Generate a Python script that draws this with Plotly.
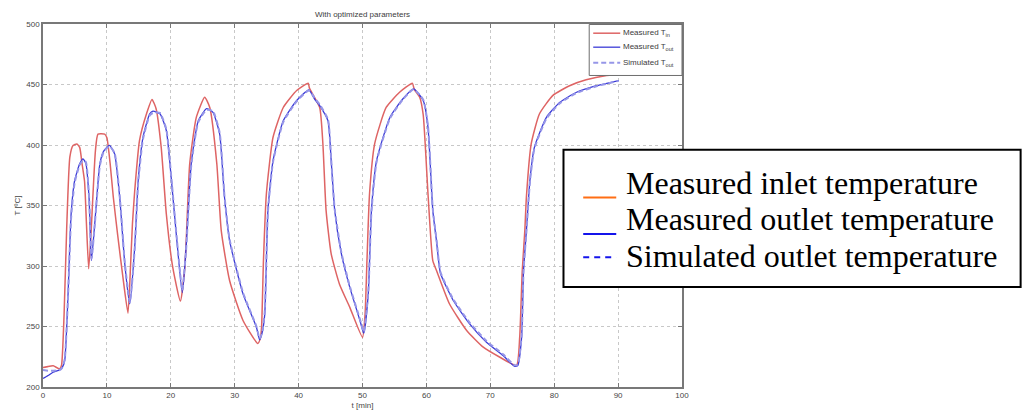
import plotly.graph_objects as go

# ---------------- data ----------------
t_in = [0, 0.8, 1.6, 2.6, 2.9, 3.3, 3.7, 4.2, 4.7, 5.3, 5.74, 6.1, 6.5, 6.8, 7.15, 7.5, 7.8, 8.2, 8.6, 9.65,
        10.0, 10.5, 11.0, 11.7, 12.5, 13.3, 13.7, 14.0, 14.35, 15.1, 16.2, 17.06, 17.7, 18.5, 19.3, 20.3,
        21.5, 22.2, 22.96, 24.0, 25.3, 26.1, 27.2, 27.9, 29.2, 31.3, 33.6, 34.0, 34.2, 34.5, 34.96, 36.0,
        37.6, 39.7, 41.5, 41.7, 43.3, 43.8, 44.3, 45.1, 46.4, 48.0, 50.0, 50.4, 50.7, 51.1, 51.9, 53.7,
        55.8, 57.8, 58.1, 58.95, 59.5, 60.25, 61.0, 61.6, 63.6, 66.3, 68.9, 71.5, 74.1, 74.6, 75.0, 75.4,
        75.65, 76.4, 77.7, 79.8, 82.4, 85.0, 88.2, 89.5]
T_in = [216, 217, 217.5, 215, 218, 260, 330, 390, 399.5, 400.8, 398, 385, 370, 335, 297.7, 325, 357, 395, 409, 409,
        406, 385, 357, 325, 291, 261, 300, 335, 362, 403.7, 425.8, 437.6, 430, 398, 343, 299,
        271, 299, 384.5, 423, 439.5, 431, 384.5, 329, 288, 255, 236, 240, 249, 304.5, 359.7, 406.4,
        431, 445, 451, 447, 431, 401, 346, 310, 285, 266, 241, 260, 304.5, 359.7, 401, 431,
        443.6, 451, 446, 439.5, 425, 359.7, 304.5, 296, 268.8, 246.7, 232.9, 224.6, 217.8, 241, 296, 329,
        357, 401, 425.8, 441, 449, 453.9, 457.4, 458]

t_out = [0, 0.8, 1.57, 2.6, 3.0, 3.4, 3.9, 4.4, 4.96, 5.74, 6.26, 6.7, 7.2, 7.57, 8.1, 8.9, 9.5, 10.4, 11.2, 12.0,
         12.8, 13.57, 14.35, 14.9, 15.65, 16.7, 17.2, 18.3, 19.3, 20.1, 20.9, 21.8, 22.4, 23.2, 24.3, 25.6,
         26.6, 27.65, 28.4, 29.2, 31.3, 33.4, 33.9, 34.3, 34.7, 35.2, 36.0, 37.6, 39.7, 41.6, 42.5, 43.3,
         44.6, 45.1, 45.65, 46.7, 48.0, 49.6, 50.2, 50.9, 51.4, 52.2, 54.3, 56.3, 58.0, 59.5, 60.25, 61.0,
         61.6, 62.2, 64.2, 66.8, 69.4, 72.0, 73.8, 74.3, 74.9, 75.2, 75.65, 76.2, 76.9, 78.8, 80.9, 83.5,
         86.6, 90.1]
T_out = [207, 209.5, 212.2, 214.2, 216, 222, 274, 343, 370.7, 384.5, 388.6, 385, 357, 304.5, 335, 384.5, 395, 399.6, 392.7, 357,
         301.8, 268.8, 315.5, 370.7, 406.4, 425.8, 428, 425.8, 412, 370.7, 323.8, 278, 315.5, 384.5, 420, 430,
         427, 409, 357, 321, 277, 249.4, 239, 245, 260, 346, 387, 420, 436.8, 445.6, 438, 432.6,
         420, 387, 346, 310, 282.5, 255, 244.5, 277, 346, 387, 423, 438, 446.4, 436.8, 414.7, 346,
         320, 294, 271.5, 252, 237, 226, 217, 217.8, 241, 296, 329, 370.7, 398, 423, 435.4, 443.6,
         449, 453.3]

t_sim = [0, 0.8, 1.6, 2.6, 3.0, 3.4, 3.9, 4.4, 4.96, 5.74, 6.26, 6.7, 7.2, 7.6, 8.1, 8.9, 9.5, 10.4, 11.2, 12.0,
         12.8, 13.6, 14.35, 14.9, 15.65, 16.7, 17.2, 18.3, 19.3, 20.1, 20.9, 21.8, 22.4, 23.2, 24.3, 25.6,
         26.6, 27.65, 28.4, 29.2, 31.3, 33.4, 33.9, 34.3, 34.7, 35.2, 36.0, 37.6, 39.7, 41.6, 42.5, 43.3,
         44.6, 45.1, 45.65, 46.7, 48.0, 49.6, 50.2, 50.9, 51.4, 52.2, 54.3, 56.3, 58.0, 59.5, 60.25, 61.0,
         61.6, 62.2, 64.2, 66.8, 69.4, 72.0, 73.8, 74.3, 74.9, 75.2, 75.65, 76.2, 76.9, 78.8, 80.9, 83.5,
         86.6, 90.1]
T_sim = [214, 213.5, 213.5, 214, 216, 223, 272, 340, 369, 383.5, 387, 386, 358, 306, 334, 383, 394.5, 399, 393.5, 358,
         303, 270, 314, 369, 405, 424.5, 426.5, 426.5, 413, 372, 325, 280, 314, 383, 419, 429,
         428, 410, 358, 322, 278, 250, 240, 245, 262, 345, 386, 419, 436, 445, 439, 433.5,
         421, 388, 347, 311, 283.5, 256, 245.5, 278, 345, 386, 422, 437.5, 446, 437.5, 415.5, 347,
         321, 295, 272.5, 253, 238, 227, 218, 218.5, 242, 296, 328, 369.5, 397, 422, 434.5, 443,
         448.5, 453]

x_ticks = [0, 10, 20, 30, 40, 50, 60, 70, 80, 90, 100]
y_ticks = [200, 250, 300, 350, 400, 450, 500]

legend_labels = ["Measured T<sub>in</sub>", "Measured T<sub>out</sub>", "Simulated T<sub>out</sub>"]
big_legend_labels = ["Measured inlet temperature", "Measured outlet temperature", "Simulated outlet temperature"]

# ---------------- figure ----------------
W, H = 1027, 410
L, R, T, B = 43.3, 681.7, 23.5, 386.7   # plot area in pixels


def px(x):
    return (x - L) / (R - L)


def py(y):
    return (B - y) / (B - T)


c_in = "rgb(222,100,100)"
c_out = "rgb(60,60,215)"
c_sim = "rgb(150,150,232)"

fig = go.Figure()
fig.add_trace(go.Scatter(x=t_in, y=T_in, mode="lines", name=legend_labels[0],
                         line=dict(color=c_in, width=1.5, shape="spline", smoothing=0.5)))
fig.add_trace(go.Scatter(x=t_out, y=T_out, mode="lines", name=legend_labels[1],
                         line=dict(color=c_out, width=1.3, shape="spline", smoothing=0.5)))
fig.add_trace(go.Scatter(x=t_sim, y=T_sim, mode="lines", name=legend_labels[2],
                         line=dict(color=c_sim, width=2, dash="5px,3px", shape="spline", smoothing=0.5)))

axis_common = dict(
    showline=True, linecolor="rgb(120,120,120)", linewidth=1.5, mirror="ticks",
    ticks="inside", ticklen=4, tickcolor="rgb(120,120,120)",
    showgrid=True, gridcolor="rgb(200,200,200)", griddash="dot", gridwidth=1,
    zeroline=False, automargin=False,
    tickfont=dict(family="Liberation Sans", size=8, color="rgb(70,70,70)"),
)

fig.update_xaxes(range=[0, 100], tickvals=x_ticks,
                 title=dict(text="t [min]", font=dict(family="Liberation Sans", size=8, color="rgb(70,70,70)")),
                 **axis_common)
fig.update_yaxes(range=[200, 500], tickvals=y_ticks,
                 title=dict(text="T [ºC]", font=dict(family="Liberation Sans", size=8, color="rgb(70,70,70)"),
                            standoff=4),
                 **axis_common)

fig.update_layout(
    width=W, height=H,
    margin=dict(l=L, r=W - R, t=T, b=H - B, pad=0, autoexpand=False),
    paper_bgcolor="white", plot_bgcolor="white",
    title=dict(text="With optimized parameters", x=0.5 * (L + R) / W, xanchor="center",
               y=1 - 14 / H, yanchor="middle",
               font=dict(family="Liberation Sans", size=8, color="rgb(60,60,60)")),
    showlegend=False,
)

shapes = []
annotations = []

# small in-plot legend (MATLAB style)
shapes.append(dict(type="rect", xref="paper", yref="paper",
                   x0=px(589), x1=px(681.7), y0=py(75), y1=py(24),
                   line=dict(color="rgb(110,110,110)", width=1), fillcolor="white", layer="above"))
small_y = [32.7, 46.7, 62.3]
small_style = [(c_in, 1.5, "solid"), (c_out, 1.3, "solid"), (c_sim, 2, "5px,3px")]
for lab, yy, (c, w, d) in zip(legend_labels, small_y, small_style):
    shapes.append(dict(type="line", xref="paper", yref="paper",
                       x0=px(593), x1=px(620), y0=py(yy), y1=py(yy),
                       line=dict(color=c, width=w, dash=d), layer="above"))
    annotations.append(dict(text=lab, xref="paper", yref="paper", x=px(621), y=py(yy),
                            xanchor="left", yanchor="middle", showarrow=False,
                            font=dict(family="Liberation Sans", size=8, color="rgb(60,60,60)")))

# big overlay legend box
shapes.append(dict(type="rect", xref="paper", yref="paper",
                   x0=px(563.3), x1=px(1020), y0=py(286.7), y1=py(149.3),
                   line=dict(color="black", width=2), fillcolor="white", layer="above"))
sym_colors = ["rgb(255,110,20)", "rgb(20,20,235)", "rgb(20,20,235)"]
sym_y = [197, 233.5, 257]
sym_dash = ["solid", "solid", "6px,5px"]
for c, yy, d in zip(sym_colors, sym_y, sym_dash):
    shapes.append(dict(type="line", xref="paper", yref="paper",
                       x0=px(583), x1=px(616), y0=py(yy), y1=py(yy),
                       line=dict(color=c, width=2, dash=d), layer="above"))

baselines = [190, 226.3, 262.7]
for lab, bl in zip(big_legend_labels, baselines):
    annotations.append(dict(text=lab, xref="paper", yref="paper", x=px(624), y=py(bl - 7.5),
                            xanchor="left", yanchor="middle", showarrow=False,
                            font=dict(family="Liberation Serif", size=32, color="black")))

fig.update_layout(shapes=shapes, annotations=annotations)

fig.write_html("out.html")
